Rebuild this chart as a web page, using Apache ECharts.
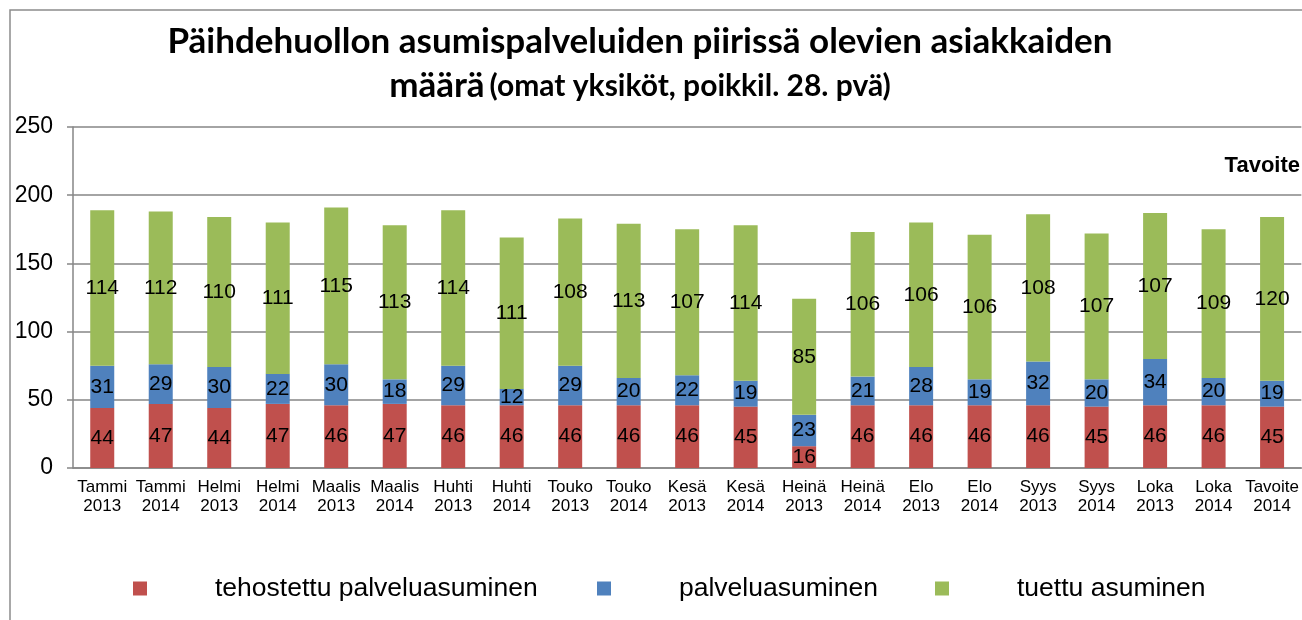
<!DOCTYPE html>
<html style="height: 100%">
<head>
	<meta charset="utf-8">
</head>
<body style="height: 100%; margin: 0; background-color: #fff;">
<div id="container" style="width: 1302px; height: 620px"></div>
<script type="text/javascript" src="https://cdn.jsdelivr.net/npm/echarts@6/dist/echarts.min.js"></script>
<script type="text/javascript">
	var months = ['Tammi', 'Tammi', 'Helmi', 'Helmi', 'Maalis', 'Maalis', 'Huhti', 'Huhti', 'Touko', 'Touko',
		'Kesä', 'Kesä', 'Heinä', 'Heinä', 'Elo', 'Elo', 'Syys', 'Syys', 'Loka', 'Loka', 'Tavoite'];
	var years = ['2013', '2014', '2013', '2014', '2013', '2014', '2013', '2014', '2013', '2014',
		'2013', '2014', '2013', '2014', '2013', '2014', '2013', '2014', '2013', '2014', '2014'];
	var tehostettu = [44, 47, 44, 47, 46, 47, 46, 46, 46, 46, 46, 45, 16, 46, 46, 46, 46, 45, 46, 46, 45];
	var palvelu = [31, 29, 30, 22, 30, 18, 29, 12, 29, 20, 22, 19, 23, 21, 28, 19, 32, 20, 34, 20, 19];
	var tuettu = [114, 112, 110, 111, 115, 113, 114, 111, 108, 113, 107, 114, 85, 106, 106, 106, 108, 107, 107, 109, 120];
	var seriesNames = ['tehostettu palveluasuminen', 'palveluasuminen', 'tuettu asuminen'];
	var colors = ['#C0504D', '#4F81BD', '#9BBB59'];

	var categories = months.map(function(m, i) {
		return m + '\n' + years[i];
	});

	var dom = document.getElementById("container");
	var myChart = echarts.init(dom);

	function makeSeries(name, data, color) {
		return {
			name: name,
			type: 'bar',
			stack: 'total',
			barWidth: 24,
			data: data,
			itemStyle: {
				color: color
			},
			label: {
				show: true,
				position: 'inside',
				color: '#000',
				textBorderWidth: 0,
				textBorderColor: 'transparent',
				fontFamily: 'Liberation Sans',
				fontWeight: 'normal',
				fontSize: 21
			}
		};
	}

	function makeLegend(name, left) {
		return {
			left: left,
			top: 570,
			data: [name],
			itemWidth: 14,
			itemHeight: 14,
			icon: 'rect',
			textStyle: {
				fontFamily: 'Liberation Sans',
				fontSize: 26.5,
				color: '#000',
				padding: [0, 0, 0, 63]
			}
		};
	}

	var option = {
		animation: false,
		color: colors,
		title: {
			left: 635,
			top: 15,
			textAlign: 'center',
			text: '{a|Päihdehuollon asumispalveluiden piirissä olevien asiakkaiden}\n{a|määrä} {b|(omat yksiköt, poikkil. 28. pvä)}',
			textStyle: {
				rich: {
					a: {
						fontFamily: 'Lato',
						fontWeight: 'bold',
						fontSize: 35,
						color: '#000',
						lineHeight: 44
					},
					b: {
						fontFamily: 'Lato',
						fontWeight: 'bold',
						fontSize: 30,
						color: '#000',
						lineHeight: 44
					}
				}
			}
		},
		legend: [
			makeLegend(seriesNames[0], 128),
			makeLegend(seriesNames[1], 592),
			makeLegend(seriesNames[2], 930)
		],
		grid: {
			left: 73,
			right: 0,
			top: 127,
			bottom: 152
		},
		xAxis: {
			type: 'category',
			data: categories,
			axisLine: {
				lineStyle: {
					color: '#868686',
					width: 1.5
				}
			},
			axisTick: {
				length: 5,
				lineStyle: {
					color: '#868686',
					width: 1.5
				}
			},
			axisLabel: {
				interval: 0,
				color: '#000',
				fontFamily: 'Liberation Sans',
				fontSize: 17,
				lineHeight: 19,
				margin: 10
			}
		},
		yAxis: {
			type: 'value',
			min: 0,
			max: 250,
			interval: 50,
			axisLine: {
				show: true,
				lineStyle: {
					color: '#868686',
					width: 1.5
				}
			},
			axisTick: {
				show: true,
				length: 6,
				lineStyle: {
					color: '#868686',
					width: 1.5
				}
			},
			splitLine: {
				lineStyle: {
					color: '#868686',
					width: 1.5
				}
			},
			axisLabel: {
				color: '#000',
				fontFamily: 'Liberation Sans',
				fontSize: 23,
				margin: 20
			}
		},
		graphic: [{
			type: 'rect',
			shape: { x: 10, y: 10, width: 1400, height: 700 },
			style: { fill: 'none', stroke: '#8c8c8c', lineWidth: 1.5 },
			silent: true
		}, {
			type: 'text',
			right: 2,
			top: 155,
			style: {
				text: 'Tavoite',
				fontFamily: 'Liberation Sans',
				fontWeight: 'bold',
				fontSize: 22,
				fill: '#000'
			}
		}],
		series: [
			makeSeries(seriesNames[0], tehostettu, colors[0]),
			makeSeries(seriesNames[1], palvelu, colors[1]),
			makeSeries(seriesNames[2], tuettu, colors[2])
		]
	};
	myChart.setOption(option);
</script>
</body>
</html>
